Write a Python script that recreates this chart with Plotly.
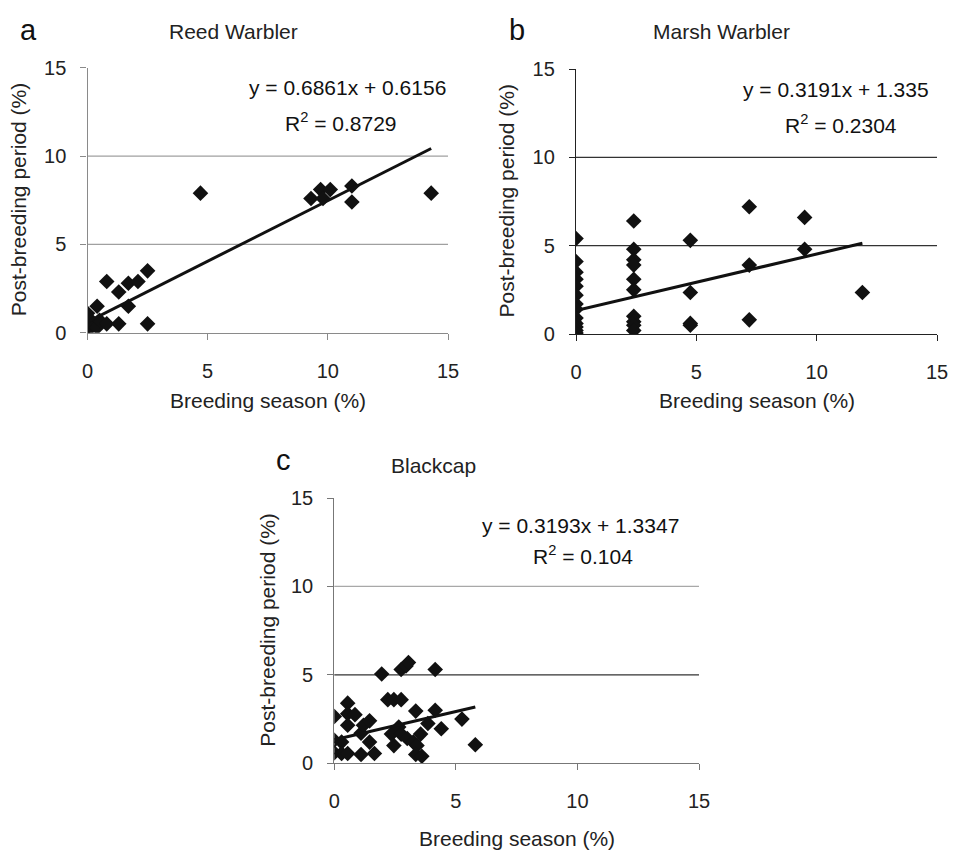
import plotly.graph_objects as go

# ---------------- data ----------------
reed_x = [0, 0, 0, 0, 0.2, 0.4, 0.4, 0.5, 0.8, 0.8, 1.3, 1.3, 1.7, 1.7, 2.1, 2.5, 2.5,
          4.7, 9.3, 9.7, 9.8, 10.1, 11.0, 11.0, 14.3]
reed_y = [1.1, 0.9, 0.3, 0.1, 0.5, 1.5, 0.3, 0.7, 2.9, 0.5, 2.3, 0.5, 2.8, 1.5, 2.9, 3.5, 0.5,
          7.9, 7.6, 8.1, 7.6, 8.1, 8.3, 7.4, 7.9]
reed_fit = (0.6861, 0.6156)
reed_eq = ["y = 0.6861x + 0.6156", "R<sup>2</sup> = 0.8729"]

marsh_x = [0, 0, 0, 0, 0, 0, 0, 0, 0, 0, 0, 0, 0,
           2.4, 2.4, 2.4, 2.4, 2.4, 2.4, 2.4, 2.4, 2.4, 2.4,
           4.75, 4.75, 4.75, 4.75, 7.2, 7.2, 7.2, 9.5, 9.5, 11.9]
marsh_y = [5.4, 4.1, 3.5, 3.1, 2.7, 2.2, 1.7, 1.4, 0.9, 0.6, 0.4, 0.2, 0.05,
           6.4, 4.8, 4.2, 3.9, 3.1, 2.5, 1.0, 0.7, 0.5, 0.2,
           5.3, 2.35, 0.6, 0.5, 7.2, 3.9, 0.8, 6.6, 4.8, 2.35]
marsh_fit = (0.3191, 1.335)
marsh_eq = ["y = 0.3191x + 1.335", "R<sup>2</sup> = 0.2304"]

black_x = [0, 0, 0, 0.3, 0.3, 0.55, 0.55, 0.55, 0.55, 0.85, 1.1, 1.1, 1.2, 1.45, 1.45, 1.65,
           1.95, 2.2, 2.45, 2.75, 2.45, 2.35, 2.65, 2.75, 2.75, 2.95, 3.05, 3.0, 3.25, 3.35,
           3.4, 3.35, 3.6, 3.55, 3.85, 4.15, 4.15, 4.4, 5.25, 5.8]
black_y = [2.65, 1.3, 0.6, 1.2, 0.55, 3.4, 2.15, 0.55, 2.8, 2.75, 1.7, 0.5, 2.15, 2.4, 1.2, 0.55,
           5.05, 3.6, 3.6, 3.6, 1.0, 1.65, 2.05, 1.65, 5.3, 5.5, 5.7, 1.4, 1.2, 2.95,
           1.0, 0.5, 0.4, 1.65, 2.25, 5.3, 3.0, 1.95, 2.5, 1.05]
black_fit = (0.3193, 1.3347)
black_eq = ["y = 0.3193x + 1.3347", "R<sup>2</sup> = 0.104"]

axis_ticks = [0, 5, 10, 15]
grid_levels = [5, 10]
x_title = "Breeding season (%)"
y_title = "Post-breeding period (%)"

panels = [
    dict(letter="a", title="Reed Warbler", x=reed_x, y=reed_y, fit=reed_fit, eq=reed_eq),
    dict(letter="b", title="Marsh Warbler", x=marsh_x, y=marsh_y, fit=marsh_fit, eq=marsh_eq),
    dict(letter="c", title="Blackcap", x=black_x, y=black_y, fit=black_fit, eq=black_eq),
]

# ---------------- layout geometry (screen pixels) ----------------
W, H = 954, 850
OFF = 0  # body margin removed via post_script
FONT = "Arial, Liberation Sans, sans-serif"
geo = [
    dict(x0=87.5, x1=448, ytop=67.7, ybot=332.7, axcol="#8a8a8a",
         gridcols={5: "#a0a0a0", 10: "#a0a0a0"},
         letter_xy=(28, 30), title_xy=(233, 32), eq_xy=(347, 88), r2_xy=(341, 122),
         ytitle_x=18, xtitle_y=400),
    dict(x0=576, x1=937, ytop=69, ybot=334, axcol="#222222",
         gridcols={5: "#333333", 10: "#333333"},
         letter_xy=(517, 30), title_xy=(721, 32), eq_xy=(836, 90), r2_xy=(841, 124),
         ytitle_x=506, xtitle_y=400),
    dict(x0=334.3, x1=699, ytop=498, ybot=763.3, axcol="#777777",
         gridcols={5: "#333333", 10: "#a8a8a8"},
         letter_xy=(283, 460), title_xy=(433, 465), eq_xy=(580, 525), r2_xy=(583, 555),
         ytitle_x=268, xtitle_y=838),
]

def px(v):
    return (v - OFF) / W

def py(v):
    return 1 - (v - OFF) / H

fig = go.Figure()
annotations = []
shapes = []

def ann(text, xy, size, color="#222222", angle=0):
    return dict(text=text, x=px(xy[0]), y=py(xy[1]), xref="paper", yref="paper",
                showarrow=False, xanchor="center", yanchor="middle", textangle=angle,
                font=dict(family=FONT, size=size, color=color))

for i, (p, g) in enumerate(zip(panels, geo)):
    sfx = "" if i == 0 else str(i + 1)
    xa, ya = "x" + sfx, "y" + sfx
    fig.add_trace(go.Scatter(
        x=p["x"], y=p["y"], mode="markers", xaxis=xa, yaxis=ya,
        marker=dict(symbol="diamond", size=12, color="#111111", line=dict(width=0)),
        showlegend=False, hoverinfo="x+y"))
    xs = [min(p["x"]), max(p["x"])]
    a, b = p["fit"]
    fig.add_trace(go.Scatter(
        x=xs, y=[a * v + b for v in xs], mode="lines", xaxis=xa, yaxis=ya,
        line=dict(color="#111111", width=3), showlegend=False, hoverinfo="skip"))

    axis_common = dict(range=[0, 15], tickvals=axis_ticks, showgrid=False, zeroline=False,
                       showline=True, linecolor=g["axcol"], linewidth=1.3, automargin=False,
                       ticks="outside", ticklen=6, tickcolor=g["axcol"], tickwidth=1.3,
                       tickfont=dict(family=FONT, size=20, color="#222222"))
    fig.update_layout(**{
        "xaxis" + sfx: dict(axis_common, domain=[px(g["x0"]), px(g["x1"])], anchor=ya,
                            ticklabelstandoff=14),
        "yaxis" + sfx: dict(axis_common, domain=[py(g["ybot"]), py(g["ytop"])], anchor=xa,
                            ticklabelstandoff=10),
    })
    for gv in grid_levels:
        shapes.append(dict(type="line", xref=xa + " domain", yref=ya, x0=0, x1=1, y0=gv, y1=gv,
                           line=dict(color=g["gridcols"][gv], width=1.2), layer="below"))

    annotations += [
        ann(p["letter"], g["letter_xy"], 29, "#111111"),
        ann(p["title"], g["title_xy"], 21),
        ann(p["eq"][0], g["eq_xy"], 21, "#111111"),
        ann(p["eq"][1], g["r2_xy"], 21, "#111111"),
        ann(x_title, ((g["x0"] + g["x1"]) / 2, g["xtitle_y"]), 21),
        ann(y_title, (g["ytitle_x"], (g["ytop"] + g["ybot"]) / 2), 21, angle=-90),
    ]

fig.update_layout(width=W, height=H, margin=dict(l=0, r=0, t=0, b=0, autoexpand=False),
                  paper_bgcolor="white", plot_bgcolor="white",
                  annotations=annotations, shapes=shapes)
fig.write_html("out.html", config={"displayModeBar": False},
               post_script="document.body.style.margin='0';document.body.style.overflow='hidden';")
